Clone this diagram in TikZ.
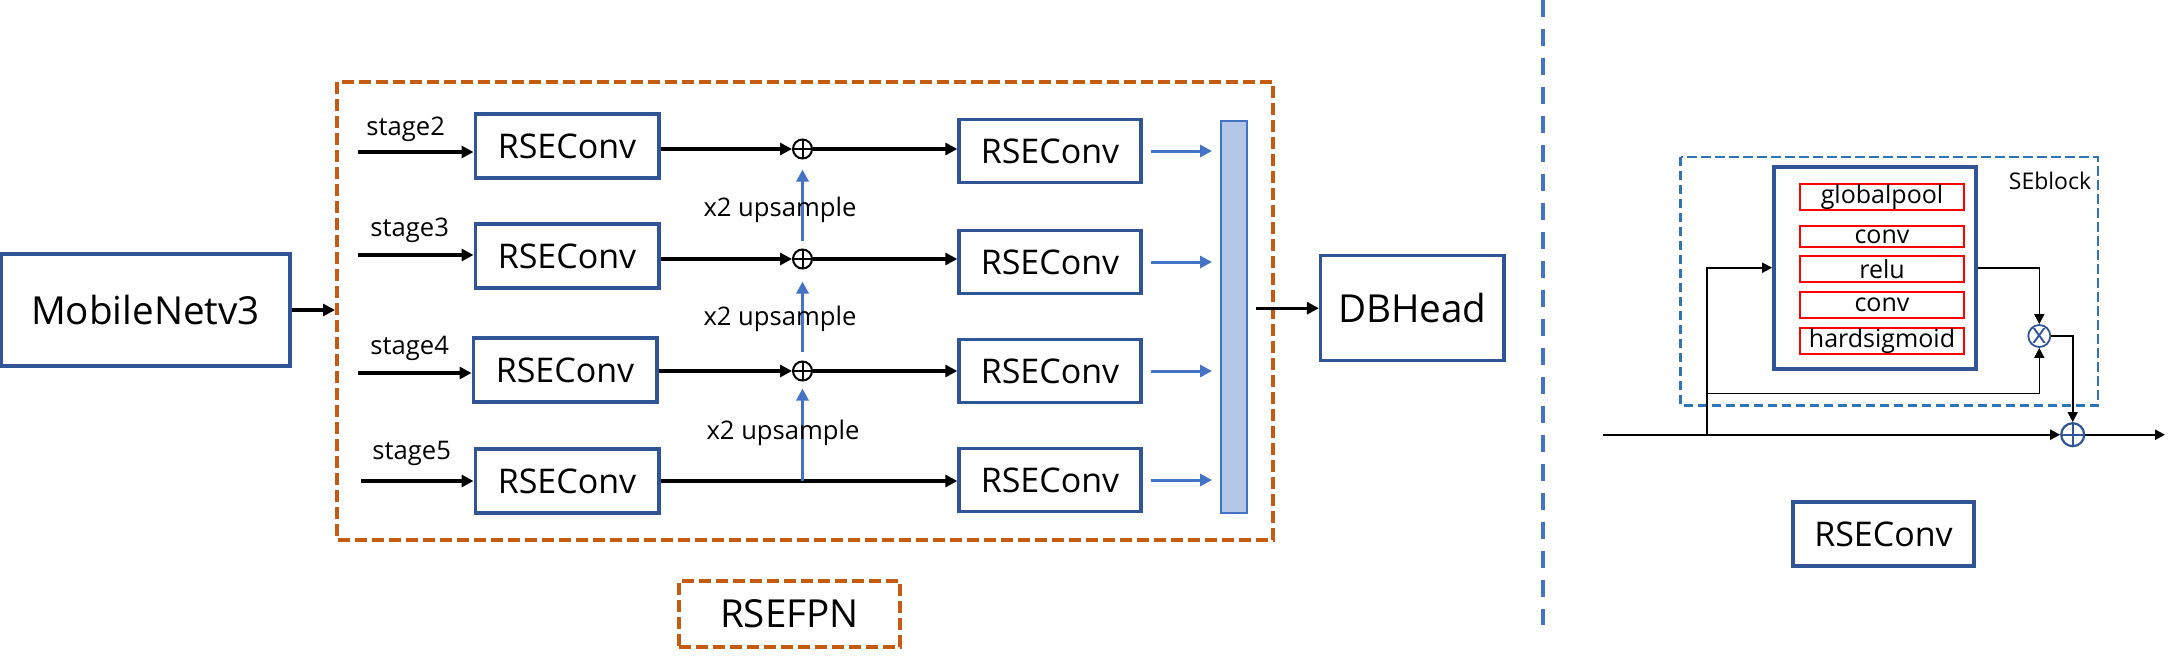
\documentclass[tikz,border=0pt]{standalone}
\usepackage{fontspec}
\setmainfont{Open Sans}
\usetikzlibrary{arrows.meta}
\definecolor{boxblue}{HTML}{2F5597}
\definecolor{orng}{HTML}{C55A11}
\definecolor{lblue}{HTML}{4472C4}
\definecolor{barfill}{HTML}{B4C7E7}
\definecolor{sedash}{HTML}{2E75B6}
\definecolor{redb}{HTML}{FF0000}
\begin{document}
\begin{tikzpicture}[x=0.5pt,y=-0.5pt,
  bbox/.style={draw=boxblue, line width=1.7pt, inner sep=0pt, fill=white},
  big/.style={font=\fontsize{19.3}{22}\selectfont},
  mid/.style={font=\fontsize{17}{20}\selectfont},
  lab/.style={font=\fontsize{12.8}{15}\selectfont, inner sep=0pt},
  rsebox/.style={bbox, mid, minimum width=91.8pt, minimum height=32pt},
  rsebox2/.style={bbox, mid, minimum width=91pt, minimum height=31.5pt},
  arr/.style={line width=1.6pt, -{Triangle[length=6pt,width=6pt]}},
  barr/.style={line width=1.5pt, draw=lblue, color=lblue, -{Triangle[length=6pt,width=6pt]}},
  tarr/.style={line width=0.8pt, -{Triangle[length=5pt,width=5pt]}},
  oplus/.style={circle, draw, line width=1pt, minimum size=9.5pt, inner sep=0pt,
    path picture={\draw[line width=1pt] (path picture bounding box.north) -- (path picture bounding box.south)
      (path picture bounding box.west) -- (path picture bounding box.east);}},
  rbox/.style={draw=redb, line width=1pt, minimum width=82pt, inner sep=0pt, fill=white,
    font=\fontsize{12.5}{14}\selectfont},
  orngdash/.style={draw=orng, line width=1.7pt, dash pattern=on 6pt off 2.5pt}
]
\useasboundingbox (0,0) rectangle (2181,660);

% ---------------- left part ----------------
\draw[orngdash] (337,82) rectangle (1273,540);

\node[bbox, big, minimum width=144.5pt, minimum height=56pt] (mob) at (145.5,310) {MobileNetv3};
\coordinate (fpnin) at (335,310);
\draw[arr] (mob.east) -- (fpnin);

% first column
\node[rsebox] (b1) at (567,146) {RSEConv};
\node[rsebox] (b2) at (567,256) {RSEConv};
\node[rsebox] (b3) at (565,370) {RSEConv};
\node[rsebox] (b4) at (567,481) {RSEConv};

\coordinate (s2) at (358,152);
\coordinate (s3) at (358,255);
\coordinate (s4) at (358,373);
\coordinate (s5) at (361,481);
\draw[arr] (s2) -- (s2 -| b1.west);
\draw[arr] (s3) -- (s3 -| b2.west);
\draw[arr] (s4) -- (s4 -| b3.west);
\draw[arr] (s5) -- (s5 -| b4.west);

\node[lab, anchor=west] (l2) at (366,129) {stage2};
\node[lab, anchor=west] (l3) at (370,230) {stage3};
\node[lab, anchor=west] (l4) at (370,348) {stage4};
\node[lab, anchor=west] (l5) at (372,453) {stage5};

% plus nodes
\node[oplus] (p1) at (802.5,149) {};
\node[oplus] (p2) at (802.5,259) {};
\node[oplus] (p3) at (802.5,371) {};
\coordinate (p4) at (802.5,481);

% second column
\node[rsebox2] (c1) at (1050,151) {RSEConv};
\node[rsebox2] (c2) at (1050,262) {RSEConv};
\node[rsebox2] (c3) at (1050,371) {RSEConv};
\node[rsebox2] (c4) at (1050,480) {RSEConv};

\draw[arr] (b1.east |- p1) -- (p1.west);
\draw[arr] (b2.east |- p2) -- (p2.west);
\draw[arr] (b3.east |- p3) -- (p3.west);
\draw[arr] (p1.east) -- (p1 -| c1.west);
\draw[arr] (p2.east) -- (p2 -| c2.west);
\draw[arr] (p3.east) -- (p3 -| c3.west);
\draw[arr] (b4.east |- p4) -- (p4 -| c4.west);

% upsample arrows
\draw[barr, shorten >=3.5pt] (p4) -- (p3.south);
\draw[barr, shorten <=4.5pt, shorten >=6pt] (p3.north) -- (p2.south);
\draw[barr, shorten <=4pt, shorten >=5pt] (p2.north) -- (p1.south);

\node[lab] (u1) at (780,210) {x2 upsample};
\node[lab] (u2) at (780,319) {x2 upsample};
\node[lab] (u3) at (783,433) {x2 upsample};

% concat bar
\node[draw=lblue, line width=1pt, fill=barfill, minimum width=13pt, minimum height=196pt, inner sep=0pt] (bar) at (1234,317) {};

\draw[barr, shorten <=4pt, shorten >=4pt] (c1.east) -- (c1 -| bar.west);
\draw[barr, shorten <=4pt, shorten >=4pt] (c2.east) -- (c2 -| bar.west);
\draw[barr, shorten <=4pt, shorten >=4pt] (c3.east) -- (c3 -| bar.west);
\draw[barr, shorten <=4pt, shorten >=4pt] (c4.east) -- (c4 -| bar.west);

\node[bbox, big, minimum width=91.7pt, minimum height=52.5pt] (db) at (1412.3,308.2) {DBHead};
\draw[arr, shorten <=4pt] (bar.east |- db.west) -- (db.west);

\node[orngdash, big, minimum width=110.5pt, minimum height=33pt, inner sep=0pt] (fpn) at (789.5,614) {RSEFPN};

% divider
\draw[lblue, line width=2pt, dash pattern=on 8.3pt off 6.2pt] (1543,0) -- (1543,625);

% ---------------- right part ----------------
\draw[sedash, line width=1.3pt, dash pattern=on 4.7pt off 2.3pt] (1680.7,157) rectangle (2098,405.7);
\node[font=\fontsize{11.5}{13}\selectfont, inner sep=0pt] (selab) at (2050,181) {SEblock};

\node[draw=boxblue, line width=1.8pt, minimum width=101pt, minimum height=101pt, inner sep=0pt] (se) at (1875,267.7) {};
\node[rbox, minimum height=13.1pt] (r1) at (1882,196.8) {globalpool};
\node[rbox, minimum height=10.5pt] (r2) at (1882,236.5) {conv};
\node[rbox, minimum height=13.1pt] (r3) at (1882,268.8) {relu};
\node[rbox, minimum height=13pt] (r4) at (1882,304.7) {conv};
\node[rbox, minimum height=13.1pt] (r5) at (1882,340.8) {hardsigmoid};

\node[circle, draw=boxblue, line width=0.9pt, minimum size=11pt, inner sep=0pt, text=boxblue,
  font=\fontsize{14}{14}\selectfont] (sx) at (2039.3,336) {x};
\node[circle, draw=boxblue, line width=1.1pt, minimum size=11.5pt, inner sep=0pt,
  path picture={\draw[boxblue, line width=1.1pt] (path picture bounding box.north) -- (path picture bounding box.south)
      (path picture bounding box.west) -- (path picture bounding box.east);}] (sp) at (2072.7,434.7) {};

\coordinate (in) at (1603,434.7);
\coordinate (br) at (1706.7,434.7);
\coordinate (lowc) at (2039.3,393.3);
\coordinate (out) at (2165,434.7);

\draw[tarr, line width=1.1pt] (in) -- (sp.west);
\draw[tarr] (br) |- (se.west);
\draw[tarr] (br) |- (lowc) -- (sx.south);
\draw[tarr] (se.east) -| (sx.north);
\draw[tarr] (sx.east) -| (sp.north);
\draw[tarr, line width=1.1pt] (sp.east) -- (out);

\node[bbox, mid, minimum width=90.5pt, minimum height=32pt] (rse) at (1883.5,534) {RSEConv};
\end{tikzpicture}
\end{document}
